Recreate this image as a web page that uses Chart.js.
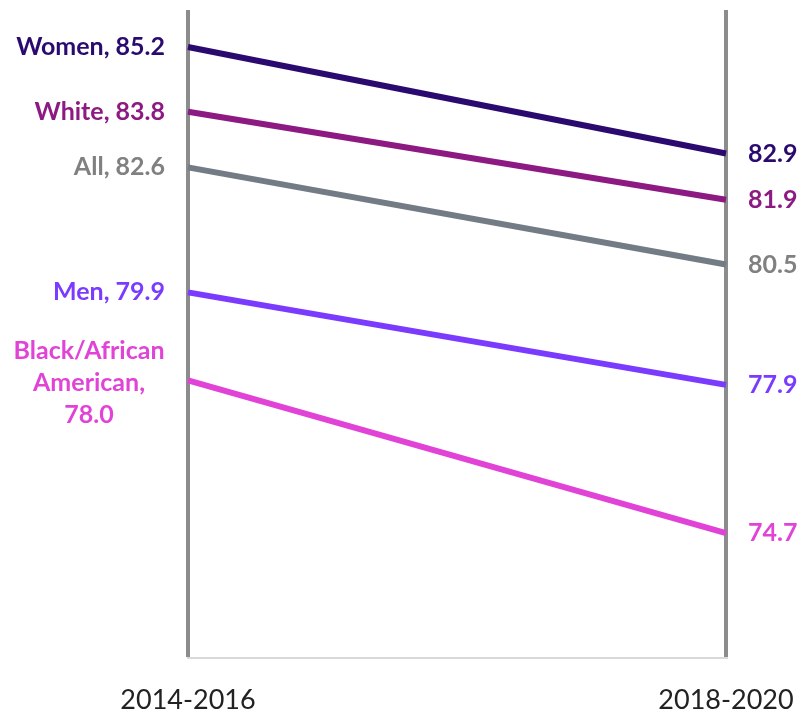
<!DOCTYPE html>
<html>
<head>
<meta charset="utf-8">
<script src="https://cdn.jsdelivr.net/npm/chart.js@4/dist/chart.umd.min.js"></script>
<style>
  body { margin: 0; background: #fff; }
  #wrap { width: 803px; height: 715px; position: relative; }
</style>
</head>
<body>
<div id="wrap"><canvas id="mycanvas"></canvas></div>
<script>
var categories = ['2014-2016', '2018-2020'];
var groups = ['Women', 'White', 'All', 'Men', 'Black/African American'];
var start2014 = [85.2, 83.8, 82.6, 79.9, 78.0];
var end2018 = [82.9, 81.9, 80.5, 77.9, 74.7];
var leftLabels = [['Women, 85.2'], ['White, 83.8'], ['All, 82.6'], ['Men, 79.9'], ['Black/African', 'American,', '78.0']];
var rightLabels = ['82.9', '81.9', '80.5', '77.9', '74.7'];
var lineColors = ['#2B0A70', '#8C1A82', '#737B85', '#7A3BFF', '#E043D6'];
var textColors = ['#2B0A70', '#8C1A82', '#808080', '#7A3BFF', '#E043D6'];

var FONT = 'Lato, "Open Sans", sans-serif';

var datasets = [];
for (var i = 0; i < groups.length; i++) {
	datasets.push({
		label: groups[i],
		data: [start2014[i], end2018[i]],
		borderColor: lineColors[i],
		backgroundColor: lineColors[i],
		borderWidth: 6,
		pointRadius: 0,
		tension: 0
	});
}

// series labels at both ends + category labels under the axes
var labelPlugin = {
	id: 'slopeLabels',
	afterDatasetsDraw: function(chart) {
		var ctx = chart.ctx;
		ctx.save();
		ctx.font = 'bold 25px ' + FONT;
		ctx.textBaseline = 'middle';
		chart.data.datasets.forEach(function(ds, i) {
			var pts = chart.getDatasetMeta(i).data;
			ctx.fillStyle = textColors[i];
			var lines = leftLabels[i];
			var lh = 32;
			if (lines.length == 1) {
				ctx.textAlign = 'right';
				ctx.fillText(lines[0], pts[0].x - 23, pts[0].y);
			} else {
				ctx.textAlign = 'center';
				var y0 = pts[0].y + 3 - (lines.length - 1) * lh / 2;
				for (var k = 0; k < lines.length; k++) {
					ctx.fillText(lines[k], 89, y0 + k * lh);
				}
			}
			ctx.textAlign = 'left';
			ctx.fillText(rightLabels[i], pts[1].x + 22, pts[1].y);
		});
		var xs = chart.scales.x;
		ctx.font = '27px ' + FONT;
		ctx.fillStyle = '#222222';
		ctx.textAlign = 'center';
		categories.forEach(function(c, k) {
			ctx.fillText(c, xs.getPixelForValue(k), 700);
		});
		ctx.restore();
	}
};

var ctx = document.getElementById('mycanvas');
var slopeChart = new Chart(ctx, {
	type: 'line',
	data: { labels: categories, datasets: datasets },
	plugins: [labelPlugin],
	options: {
		responsive: true,
		maintainAspectRatio: false,
		animation: false,
		layout: { padding: { left: 188, right: 77, top: 10, bottom: 57 } },
		plugins: { legend: { display: false }, tooltip: { enabled: false } },
		scales: {
			x: {
				offset: false,
				grid: { color: '#8C8C8C', lineWidth: 4, drawTicks: false },
				border: { display: true, color: '#D9D9D9', width: 2 },
				ticks: { display: false }
			},
			y: {
				display: false,
				min: 72,
				max: 86
			}
		}
	}
});
</script>
</body>
</html>
